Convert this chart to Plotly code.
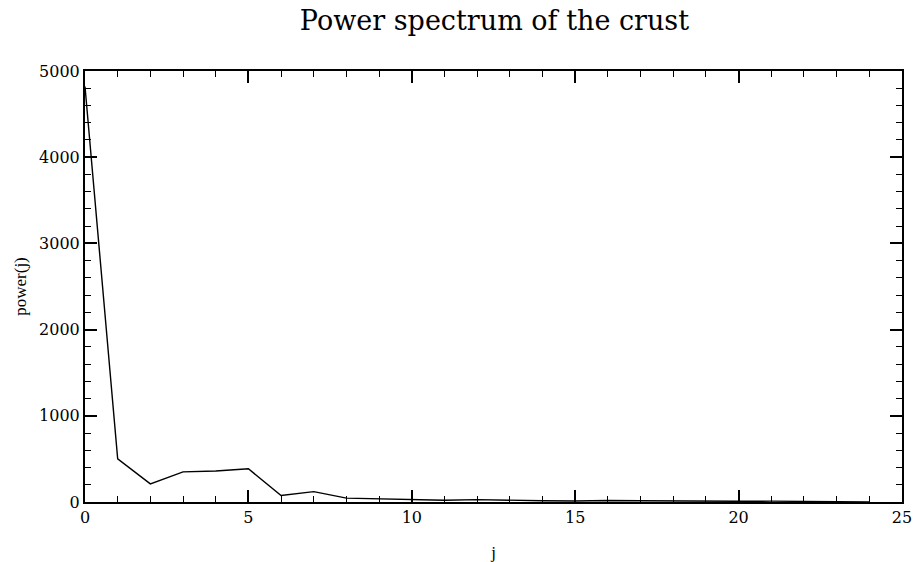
import plotly.graph_objects as go

# Power spectrum of the crust, index j vs power(j)
j = list(range(25))
power = [4820, 500, 210, 350, 360, 385, 75, 120, 45, 35, 30, 20, 28, 18, 14, 12, 18, 15, 10, 8, 8, 10, 6, 3, 2]

x_ticks = [0, 5, 10, 15, 20, 25]
y_ticks = [0, 1000, 2000, 3000, 4000, 5000]

fig = go.Figure()
fig.add_trace(go.Scatter(x=j, y=power, mode="lines",
                         line=dict(color="black", width=1.4), showlegend=False))

axis_common = dict(
    showgrid=False, zeroline=False, showline=True, linecolor="black", linewidth=2,
    mirror="allticks", ticks="inside", ticklen=12, tickwidth=1.5, tickcolor="black",
    tickfont=dict(family="DejaVu Serif", size=16, color="black"), automargin=False,
)

fig.update_xaxes(range=[0, 25], tickvals=x_ticks, ticktext=[str(v) for v in x_ticks],
                 minor=dict(dtick=1, ticks="inside", ticklen=6, tickwidth=1.2, tickcolor="black"),
                 title=dict(text="j", font=dict(family="Liberation Serif", size=17, color="black"), standoff=22),
                 **axis_common)
fig.update_yaxes(range=[0, 5000], tickvals=y_ticks, ticktext=[str(v) for v in y_ticks],
                 minor=dict(dtick=200, ticks="inside", ticklen=6, tickwidth=1.2, tickcolor="black"),
                 title=dict(text="power(j)", font=dict(family="Liberation Serif", size=17, color="black"), standoff=8),
                 **axis_common)

fig.update_layout(
    width=914, height=562,
    margin=dict(l=85, r=12, t=71, b=60),
    paper_bgcolor="white", plot_bgcolor="white",
    title=dict(text="Power spectrum of the crust", x=0.541, xanchor="center", y=0.963, yanchor="middle",
               font=dict(family="DejaVu Serif", size=27, color="black")),
)

fig.write_html("out.html")
